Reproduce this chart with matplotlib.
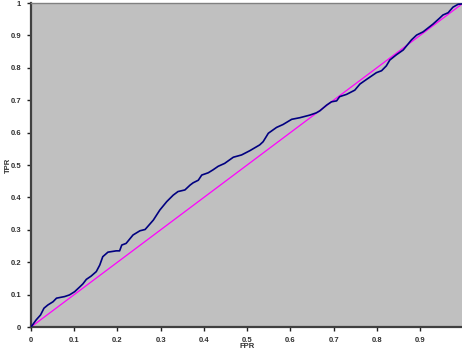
import matplotlib
matplotlib.use('Agg')
import matplotlib.pyplot as plt
import numpy as np

# ROC curve samples (false positive rate, true positive rate)
fpr = [0.0, 0.012, 0.022, 0.030, 0.039, 0.051, 0.059, 0.078, 0.089, 0.101,
       0.113, 0.120, 0.128, 0.139, 0.151, 0.159, 0.166, 0.178, 0.197, 0.205,
       0.210, 0.220, 0.236, 0.252, 0.264, 0.283, 0.298, 0.314, 0.329, 0.340,
       0.356, 0.368, 0.375, 0.387, 0.395, 0.410, 0.421, 0.433, 0.448, 0.468,
       0.487, 0.506, 0.529, 0.537, 0.549, 0.568, 0.583, 0.603, 0.622, 0.645,
       0.660, 0.668, 0.684, 0.695, 0.707, 0.714, 0.730, 0.749, 0.761, 0.776,
       0.799, 0.811, 0.822, 0.830, 0.845, 0.861, 0.880, 0.892, 0.907, 0.930,
       0.945, 0.953, 0.965, 0.976, 0.988, 0.996]
tpr = [0.0, 0.022, 0.037, 0.058, 0.068, 0.078, 0.089, 0.094, 0.099, 0.109,
       0.124, 0.133, 0.147, 0.157, 0.171, 0.191, 0.217, 0.231, 0.235, 0.235,
       0.253, 0.258, 0.284, 0.297, 0.301, 0.330, 0.361, 0.387, 0.407, 0.418,
       0.423, 0.438, 0.445, 0.453, 0.469, 0.476, 0.485, 0.496, 0.505, 0.524,
       0.531, 0.544, 0.562, 0.572, 0.598, 0.616, 0.625, 0.641, 0.646, 0.654,
       0.661, 0.667, 0.685, 0.695, 0.698, 0.711, 0.718, 0.731, 0.750, 0.764,
       0.785, 0.791, 0.806, 0.824, 0.840, 0.855, 0.886, 0.901, 0.911, 0.935,
       0.953, 0.963, 0.970, 0.987, 0.996, 0.997]

# chance line
diag = [0.0, 1.0]

xticks = [0, 0.1, 0.2, 0.3, 0.4, 0.5, 0.6, 0.7, 0.8, 0.9]
yticks = [0, 0.1, 0.2, 0.3, 0.4, 0.5, 0.6, 0.7, 0.8, 0.9, 1]

plt.rcParams['font.family'] = ['Liberation Sans', 'DejaVu Sans']

fig = plt.figure(figsize=(4.62, 3.5), dpi=100)
ax = fig.add_axes([31 / 462, 1 - 327 / 350, 1 - 31 / 462, 324 / 350])
ax.set_facecolor('#C0C0C0')

ax.plot(diag, diag, color='#FF00FF', lw=0.9, zorder=2)
ax.plot(fpr, tpr, color='#000080', lw=1.2, zorder=3)

ax.set_xlim(0, 0.997)
ax.set_ylim(0, 1)

ax.set_xticks(xticks)
ax.set_xticklabels(['0' if t == 0 else f'{t:g}' for t in xticks])
ax.set_yticks(yticks)
ax.set_yticklabels(['0' if t == 0 else f'{t:g}' for t in yticks])
ax.tick_params(direction='out', length=3, width=1, color='#202020',
               labelsize=5.5, labelcolor='#303030', pad=4)
for lab in ax.get_xticklabels() + ax.get_yticklabels():
    lab.set_fontweight('bold')

for side in ('left', 'bottom'):
    ax.spines[side].set_color('#404040')
    ax.spines[side].set_linewidth(1.6)
ax.spines['top'].set_color('#808080')
ax.spines['top'].set_linewidth(1)
ax.spines['right'].set_visible(False)

fig.text(8 / 462, 1 - 165 / 350, 'TPR', rotation=90, ha='center', va='center',
         fontsize=5.5, fontweight='bold', color='#303030')
fig.text(247 / 462, 1 - 346 / 350, 'FPR', ha='center', va='center',
         fontsize=5.5, fontweight='bold', color='#303030')

fig.savefig('out.png', dpi=100, facecolor='white')
